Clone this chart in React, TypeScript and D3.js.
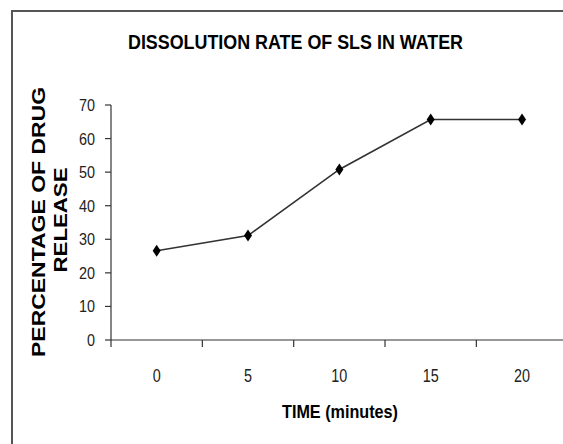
import React, { useEffect, useRef } from 'react';
import * as d3 from 'd3';

const timeLabels = ['0', '5', '10', '15', '20'];
const drugRelease = [26.6, 31.1, 50.8, 65.7, 65.7];
const yTicks = [0, 10, 20, 30, 40, 50, 60, 70];

const W = 563, H = 444;

export default function App() {
    const ref = useRef<SVGSVGElement>(null);

    useEffect(() => {
        const svg = d3.select(ref.current);
        svg.selectAll('*').remove();

        const font = '"Liberation Sans", Arial, sans-serif';

        // chart frame (right and bottom edges are cut off)
        svg.append('path')
            .attr('d', `M12,${H} L12,11 L${W},11`)
            .attr('fill', 'none')
            .attr('stroke', '#555')
            .attr('stroke-width', 2);

        var x = d3.scaleBand<string>()
            .domain(timeLabels)
            .range([111, 567.7]);

        var y = d3.scaleLinear()
            .domain([0, 70])
            .range([340, 105]);

        const axisColor = '#333';
        // narrow digits, like Arial Narrow
        const digitW = 8;

        // y axis
        svg.append('line')
            .attr('x1', 111).attr('x2', 111)
            .attr('y1', y(0)).attr('y2', y(70))
            .attr('stroke', axisColor).attr('stroke-width', 1.2);

        const yt = svg.append('g').selectAll('g').data(yTicks).enter().append('g');
        yt.append('line')
            .attr('x1', 105).attr('x2', 111)
            .attr('y1', d => y(d)).attr('y2', d => y(d))
            .attr('stroke', axisColor).attr('stroke-width', 1.2);
        yt.append('text')
            .attr('x', 95)
            .attr('y', d => y(d) + 6)
            .attr('text-anchor', 'end')
            .attr('font-family', font)
            .attr('font-size', 17)
            .attr('fill', '#222')
            .attr('textLength', d => String(d).length * digitW)
            .attr('lengthAdjust', 'spacingAndGlyphs')
            .text(d => d);

        // x axis
        svg.append('line')
            .attr('x1', 111).attr('x2', W)
            .attr('y1', y(0)).attr('y2', y(0))
            .attr('stroke', axisColor).attr('stroke-width', 1.2);

        const bounds = timeLabels.map(c => x(c) as number).concat([x.range()[1]]);
        svg.append('g').selectAll('line').data(bounds).enter().append('line')
            .attr('x1', d => d).attr('x2', d => d)
            .attr('y1', y(0)).attr('y2', y(0) + 7)
            .attr('stroke', axisColor).attr('stroke-width', 1.2);

        svg.append('g').selectAll('text').data(timeLabels).enter().append('text')
            .attr('x', d => (x(d) as number) + x.bandwidth() / 2)
            .attr('y', 382)
            .attr('text-anchor', 'middle')
            .attr('font-family', font)
            .attr('font-size', 18)
            .attr('fill', '#222')
            .attr('textLength', d => d.length * digitW)
            .attr('lengthAdjust', 'spacingAndGlyphs')
            .text(d => d);

        // the line
        const pts = timeLabels.map((c, i) => ({ cx: (x(c) as number) + x.bandwidth() / 2, v: drugRelease[i] }));
        var valueline = d3.line<{ cx: number, v: number }>()
            .x(d => d.cx)
            .y(d => y(d.v));

        svg.append('path')
            .datum(pts)
            .attr('fill', 'none')
            .attr('stroke', '#333')
            .attr('stroke-width', 1.6)
            .attr('d', valueline);

        svg.append('g').selectAll('path').data(pts).enter().append('path')
            .attr('d', d => {
                const cx = d.cx, cy = y(d.v);
                return `M${cx},${cy - 6} L${cx + 4},${cy} L${cx},${cy + 6} L${cx - 4},${cy} Z`;
            })
            .attr('fill', '#000');

        // title
        svg.append('text')
            .attr('x', 295.5)
            .attr('y', 49)
            .attr('text-anchor', 'middle')
            .attr('font-family', font)
            .attr('font-weight', 'bold')
            .attr('font-size', 20)
            .attr('textLength', 335)
            .attr('lengthAdjust', 'spacingAndGlyphs')
            .text('DISSOLUTION RATE OF SLS IN WATER');

        // x axis title
        svg.append('text')
            .attr('x', 340)
            .attr('y', 418)
            .attr('text-anchor', 'middle')
            .attr('font-family', font)
            .attr('font-weight', 'bold')
            .attr('font-size', 19)
            .attr('textLength', 116)
            .attr('lengthAdjust', 'spacingAndGlyphs')
            .text('TIME (minutes)');

        // y axis title, two lines
        const yl = svg.append('g').attr('font-family', font).attr('font-weight', 'bold').attr('font-size', 18);
        yl.append('text')
            .attr('transform', 'translate(45,222) rotate(-90)')
            .attr('text-anchor', 'middle')
            .attr('textLength', 270)
            .attr('lengthAdjust', 'spacingAndGlyphs')
            .text('PERCENTAGE OF DRUG');
        yl.append('text')
            .attr('transform', 'translate(67,220) rotate(-90)')
            .attr('text-anchor', 'middle')
            .attr('textLength', 105)
            .attr('lengthAdjust', 'spacingAndGlyphs')
            .text('RELEASE');
    }, []);

    return (
        <svg ref={ref} width={W} height={H}
            style={{ position: 'absolute', left: 0, top: 0, background: '#fff' }} />
    );
}
